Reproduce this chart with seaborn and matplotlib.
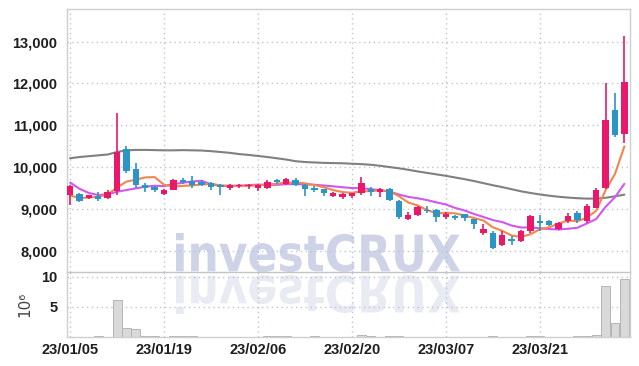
import matplotlib
matplotlib.use("Agg")
import matplotlib.pyplot as plt
import seaborn as sns
import numpy as np
import pandas as pd
from matplotlib.textpath import TextPath
from matplotlib.font_manager import FontProperties
from matplotlib.patches import PathPatch
from matplotlib.transforms import Affine2D
from matplotlib.ticker import FuncFormatter

dates = ["23/01/05","23/01/06","23/01/09","23/01/10","23/01/11","23/01/12","23/01/13","23/01/16","23/01/17","23/01/18",
         "23/01/19","23/01/20","23/01/25","23/01/26","23/01/27","23/01/30","23/01/31","23/02/01","23/02/02","23/02/03",
         "23/02/06","23/02/07","23/02/08","23/02/09","23/02/10","23/02/13","23/02/14","23/02/15","23/02/16","23/02/17",
         "23/02/20","23/02/21","23/02/22","23/02/23","23/02/24","23/02/27","23/02/28","23/03/02","23/03/03","23/03/06",
         "23/03/07","23/03/08","23/03/09","23/03/10","23/03/13","23/03/14","23/03/15","23/03/16","23/03/17","23/03/20",
         "23/03/21","23/03/22","23/03/23","23/03/24","23/03/27","23/03/28","23/03/29","23/03/30","23/03/31","23/04/03"]

opens  = [9330,9350,9250,9310,9250,9430,10430,9950,9570,9530,
          9350,9460,9700,9660,9640,9620,9580,9500,9540,9540,
          9510,9500,9690,9600,9700,9580,9500,9470,9310,9280,
          9300,9380,9480,9400,9480,9180,8760,8860,8980,8970,
          8800,8820,8870,8750,8420,8430,8140,8270,8220,8460,
          8700,8710,8520,8700,8890,8700,9030,9510,11370,10790]
highs  = [9580,9380,9340,9400,9440,11300,10510,10100,9630,9550,
          9470,9720,9750,9780,9680,9640,9600,9600,9600,9590,
          9590,9680,9720,9740,9740,9590,9540,9480,9400,9380,
          9390,9770,9530,9500,9500,9220,8920,9080,9080,8990,
          8920,8860,8880,8760,8630,8480,8460,8340,8500,8860,
          8860,8740,8690,8900,8940,9120,9500,12000,11780,13140]
lows   = [9090,9170,9230,9200,9230,9320,9850,9490,9410,9400,
          9320,9440,9600,9510,9540,9460,9340,9460,9510,9480,
          9420,9470,9600,9580,9550,9310,9400,9310,9280,9240,
          9270,9340,9300,9280,9200,8760,8745,8820,8900,8680,
          8760,8740,8710,8510,8380,8040,8120,8140,8200,8430,
          8460,8590,8500,8670,8660,8670,9010,9480,10710,10570]
closes = [9550,9200,9330,9240,9410,10370,9910,9560,9510,9450,
          9450,9700,9640,9560,9570,9520,9530,9560,9570,9570,
          9580,9640,9640,9720,9580,9470,9440,9380,9370,9350,
          9380,9620,9400,9480,9220,8800,8860,9050,8940,8800,
          8880,8790,8790,8640,8510,8060,8380,8220,8470,8830,
          8660,8620,8670,8830,8740,9080,9450,11130,10770,12040]
volume = [0.08,0.06,0.03,0.12,0.05,6.1,1.5,1.3,0.15,0.12,
          0.05,0.15,0.12,0.10,0.08,0.05,0.04,0.03,0.04,0.05,
          0.06,0.10,0.12,0.10,0.08,0.05,0.12,0.05,0.03,0.05,
          0.06,0.25,0.15,0.08,0.10,0.12,0.06,0.05,0.04,0.05,
          0.06,0.05,0.04,0.05,0.03,0.10,0.06,0.04,0.05,0.12,
          0.10,0.06,0.05,0.08,0.12,0.20,0.35,8.4,2.4,9.7]
# moving-average values before enough visible closes exist
ma5_head = [9320,9260,9270,9290]
ma10_head = [9630,9480,9380,9330,9350,9410,9450,9490,9530]
# long moving average (grey)
ma_long = [10210,10240,10260,10280,10300,10360,10400,10410,10410,10405,
           10400,10400,10405,10400,10395,10380,10360,10340,10310,10290,
           10265,10240,10210,10180,10140,10120,10110,10100,10095,10090,
           10080,10070,10055,10030,10000,9970,9935,9895,9860,9825,
           9790,9750,9710,9665,9615,9565,9520,9470,9420,9380,
           9345,9315,9290,9270,9255,9245,9245,9265,9300,9340]
tick_idx = [0,10,20,30,40,50]

sns.set_theme(style="white")
plt.rcParams['font.family'] = ['Liberation Sans', 'DejaVu Sans']
plt.rcParams['font.weight'] = 'bold'

RED = "#e8196a"
BLUE = "#2b95c6"
GRID = "#bcc2de"
SPINE = "#cfcfcf"

n = len(closes)
x = np.arange(n)
cs = pd.Series(closes, dtype=float)
ma5 = list(ma5_head) + list(cs.rolling(5).mean().values[4:])
ma10 = list(ma10_head) + list(cs.rolling(10).mean().values[9:])
df = pd.DataFrame({"x": x, "ma5": ma5, "ma10": ma10, "mal": ma_long})

fig = plt.figure(figsize=(6.39, 3.66), dpi=100)
fig.patch.set_facecolor("white")
ax = fig.add_axes([67/639, 1-272/366, (630-67)/639, (272-9)/366])
axv = fig.add_axes([67/639, 1-337/366, (630-67)/639, (337-272)/366], sharex=ax)
for a in (ax, axv):
    a.set_facecolor("none")
    for s in a.spines.values():
        s.set_color(SPINE)
        s.set_linewidth(1)
    a.grid(True, linestyle=(0, (1, 2.5)), color=GRID, linewidth=1)
    a.set_axisbelow(True)
    a.tick_params(length=0, pad=7, labelsize=10.5, labelcolor="#1e1e1e")

# watermark and reflection
prop = FontProperties(family="DejaVu Sans", weight="bold")
tp = TextPath((0, 0), "investCRUX", size=50, prop=prop)
ext = tp.get_extents()
sx = (460-176) / ext.width
sy = (133-94) / ext.height
to_fig = Affine2D().scale(1/639, 1/366) + fig.transFigure
t_main = Affine2D().translate(-ext.x0, -ext.y0).scale(sx, sy).translate(176, 94)
fig.add_artist(PathPatch(tp, transform=t_main + to_fig, color="#ced3e8", lw=0, zorder=-1))
t_ref = Affine2D().translate(-ext.x0, -ext.y0).scale(sx, -sy).translate(176, 91)
fig.add_artist(PathPatch(tp, transform=t_ref + to_fig, color="#e9ebf3", lw=0, zorder=-1))

# moving averages
sns.lineplot(data=df, x="x", y="mal", ax=ax, color="#808080", lw=1.5, zorder=2)
sns.lineplot(data=df, x="x", y="ma10", ax=ax, color="#d157ee", lw=1.5, zorder=2)
sns.lineplot(data=df, x="x", y="ma5", ax=ax, color="#f2864c", lw=1.5, zorder=2)

# candles
o = np.array(opens); c = np.array(closes); h = np.array(highs); l = np.array(lows)
cols = [RED if cc >= oo else BLUE for oo, cc in zip(o, c)]
ax.vlines(x, l, h, colors=cols, lw=1.2, zorder=3)
body_bottom = np.minimum(o, c)
body_h = np.maximum(np.abs(c - o), 25)
ax.bar(x, body_h, bottom=body_bottom, width=0.68, color=cols, lw=0, zorder=4)

# volume
axv.bar(x, volume, width=0.95, color="#d9d9d9", edgecolor="#b5b5b5", lw=0.7, zorder=2)

ax.set_xlim(-0.33, 59.6)
ax.set_ylim(7490, 13780)
ax.set_yticks([8000, 9000, 10000, 11000, 12000, 13000])
ax.yaxis.set_major_formatter(FuncFormatter(lambda v, p: f"{int(v):,}"))
ax.set_xticks(tick_idx)
ax.tick_params(axis="x", labelbottom=False)
ax.set_xlabel(""); ax.set_ylabel("")
ax.spines["bottom"].set_color("#c4c4c4")

axv.set_ylim(0, 10.8)
axv.set_yticks([5, 10])
axv.set_xticks(tick_idx)
axv.set_xticklabels([dates[i] for i in tick_idx])
axv.tick_params(axis="x", pad=4)
axv.spines["top"].set_visible(False)
axv.set_ylabel("10\u2076", fontsize=11, color="#444444", family="DejaVu Sans", fontweight="normal")
axv.yaxis.set_label_coords(-0.062, 0.5)

fig.savefig("out.png", dpi=100, facecolor="white")
